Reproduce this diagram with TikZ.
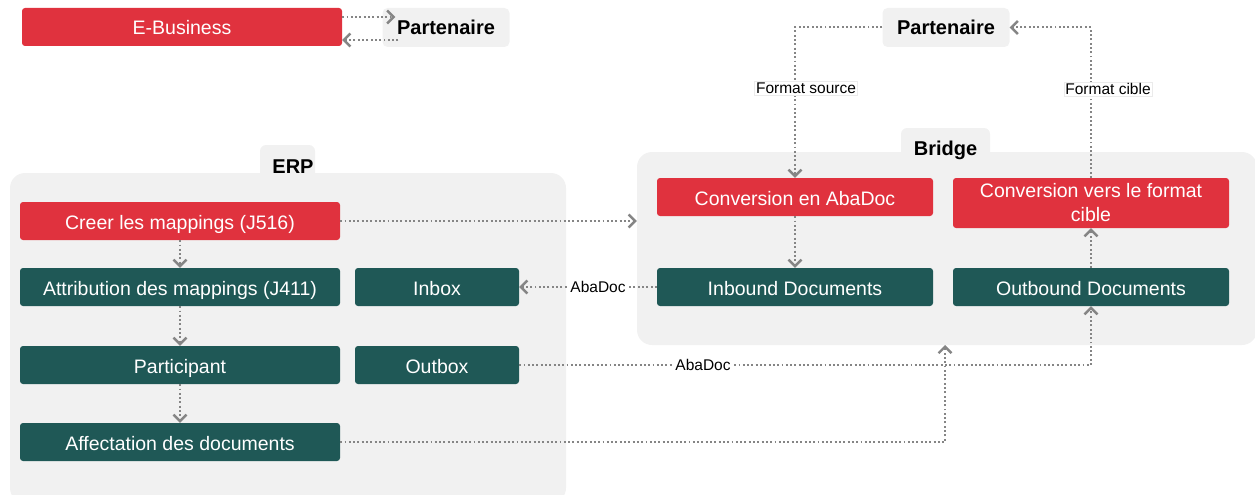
\documentclass[tikz,border=0pt]{standalone}
\usepackage{fontspec}
\setmainfont{Liberation Sans}
\usetikzlibrary{arrows.meta,calc}
\definecolor{cred}{HTML}{E0323E}
\definecolor{cteal}{HTML}{1F5856}
\definecolor{cbg}{HTML}{F1F1F1}
\definecolor{cline}{HTML}{858585}
\begin{document}
\begin{tikzpicture}[x=1pt,y=-1pt,
  box/.style={rounded corners=3pt, inner sep=0pt, text=white, align=center,
    font=\fontsize{19.5}{24}\selectfont},
  one/.style={text height=16pt, text depth=0pt},
  redbox/.style={box, fill=cred},
  tealbox/.style={box, fill=cteal},
  partbox/.style={rounded corners=5pt, fill=cbg, inner sep=0pt, font=\bfseries\fontsize{20}{24}\selectfont},
  container/.style={rounded corners=15pt, fill=cbg, inner sep=0pt},
  tab/.style={rounded corners=6pt, fill=cbg, inner sep=0pt},
  tabtext/.style={font=\bfseries\fontsize{20}{24}\selectfont, inner sep=0pt},
  conn/.style={draw=cline, line width=2pt, dash pattern=on 1.9pt off 2.4pt,
    -{Straight Barb[length=6.5pt,width=13pt,line width=2.4pt]}},
  lbl/.style={font=\fontsize{15.5}{18}\selectfont, inner sep=1.5pt, fill=white},
  lblb/.style={lbl, draw=black!8, line width=0.6pt}
]
\useasboundingbox (0,0) rectangle (1255,495);
% containers
\node[tab, minimum width=55, minimum height=40] (erptab) at (287.5,165) {};
\node[container, minimum width=556, minimum height=330] (erp) at (288,338) {};
\node[tabtext] (erplbl) at (293,167) {ERP};
\node[tab, minimum width=89, minimum height=40] (brtab) at (945.5,148) {};
\node[container, minimum width=620, minimum height=193] (bridge) at (947,248.5) {};
\node[tabtext] (brlbl) at (945.5,150) {Bridge};

% top left
\node[redbox, one, minimum width=320, minimum height=38] (ebiz) at (182,27) {E-Business};
\node[partbox, minimum width=127, minimum height=39] (partA) at (446,27.5) {Partenaire};
% top right
\node[partbox, minimum width=127, minimum height=39] (partB) at (946,27.5) {Partenaire};

% ERP boxes
\node[redbox, one, minimum width=320, minimum height=38] (creer) at (180,221) {Creer les mappings (J516)};
\node[tealbox, one, minimum width=320, minimum height=38] (attr) at (180,287) {Attribution des mappings (J411)};
\node[tealbox, one, minimum width=164, minimum height=38] (inbox) at (437,287) {Inbox};
\node[tealbox, one, minimum width=320, minimum height=38] (part) at (180,365) {Participant};
\node[tealbox, one, minimum width=164, minimum height=38] (outbox) at (437,365) {Outbox};
\node[tealbox, one, minimum width=320, minimum height=38] (aff) at (180,442) {Affectation des documents};

% Bridge boxes
\node[redbox, one, minimum width=276, minimum height=38] (conv) at (795,197) {Conversion en AbaDoc};
\node[redbox, minimum width=276, minimum height=50] (convc) at (1091,203) {Conversion vers le format\\cible};
\node[tealbox, one, minimum width=276, minimum height=38] (inb) at (795,287) {Inbound Documents};
\node[tealbox, one, minimum width=276, minimum height=38] (outb) at (1091,287) {Outbound Documents};

% connectors top-left
\coordinate (pa1) at ($(partA.west)+(13,-10.5)$);
\coordinate (pa2) at ($(partA.west)+(16,12.5)$);
\draw[conn] (ebiz.east |- pa1) -- (pa1);
\draw[conn] (pa2) -- (ebiz.east |- pa2);

% partner right
\coordinate (fs) at (795,27.5);
\draw[conn] (partB.west) -- (fs) -- (conv.north);
\coordinate (fc) at (1091,27.5);
\draw[conn] (convc.north) -- (fc) -- (partB.east);
\node[lblb] (lfs) at (806,88) {Format source};
\node[lblb] (lfc) at (1108,89) {Format cible};

% ERP internal
\draw[conn] (creer.south) -- (attr.north);
\draw[conn] (attr.south) -- (part.north);
\draw[conn] (part.south) -- (aff.north);

% creer -> bridge
\draw[conn] (creer.east) -- (creer.east -| bridge.west);
% inbound -> inbox
\draw[conn] (inb.west) -- (inbox.east);
\node[lbl] (l1) at (598,287) {AbaDoc};
% conv -> inbound
\draw[conn] (conv.south) -- (inb.north);
% outbound -> convc
\draw[conn] (outb.north) -- (convc.south);
% outbox -> outbound
\draw[conn] (outbox.east) -| (outb.south);
\node[lbl, inner sep=1pt] (l2) at (703,365) {AbaDoc};
% affectation -> bridge
\coordinate (bs) at (945,345);
\draw[conn] (aff.east) -| (bs);
\end{tikzpicture}
\end{document}
